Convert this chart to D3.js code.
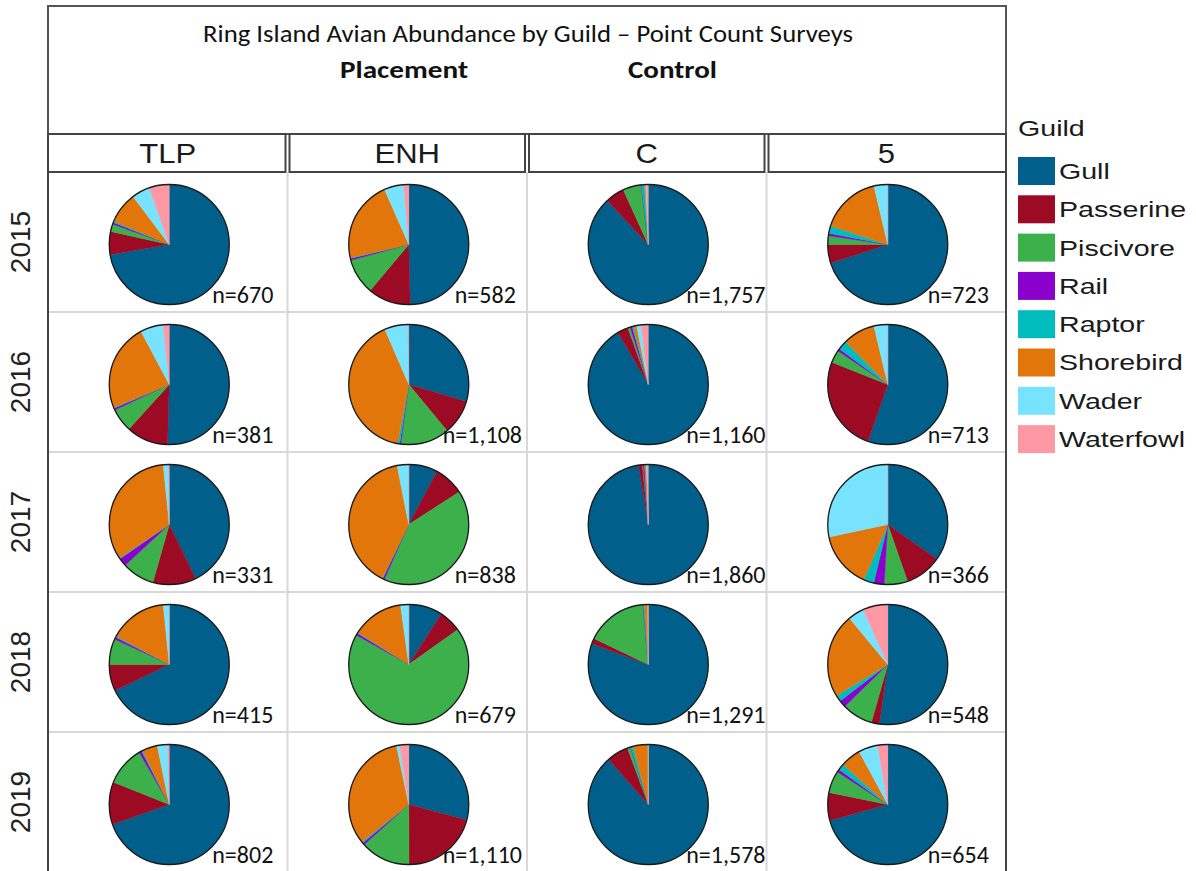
<!DOCTYPE html>
<html>
<head>
<meta charset="utf-8">
<script src="https://cdn.jsdelivr.net/npm/d3@7"></script>
<style>
  body { margin: 0; background: #fff; }
  svg { display: block; }
</style>
</head>
<body>
<svg id="chart" width="1196" height="871"></svg>
<script>
// Guild categories and their colours
const guilds = ["Gull", "Passerine", "Piscivore", "Rail", "Raptor", "Shorebird", "Wader", "Waterfowl"];
const guildColors = ["#00608b", "#9c0a23", "#3cb04a", "#8a00cc", "#00bcbc", "#e2760b", "#78e3ff", "#ff98a5"];

// Survey sites (columns) and years (rows)
const sites = ["TLP", "ENH", "C", "5"];
const years = ["2015", "2016", "2017", "2018", "2019"];

// Percent of birds in each guild, per site, in guild order
const share2015 = [
  [72.3, 6.2, 2.0, 0.5, 0.3, 8.4, 4.9, 5.4],
  [49.5, 11.5, 9.6, 0.5, 0.2, 21.9, 5.2, 1.4],
  [88.0, 5.2, 4.9, 0.1, 0.8, 0.3, 0.2, 0.5],
  [70.0, 5.0, 2.3, 0.7, 2.0, 16.3, 3.7, 0.0]
];
const share2016 = [
  [50.5, 11.3, 6.3, 0.5, 0.2, 23.5, 6.2, 1.6],
  [29.6, 9.4, 13.1, 0.3, 0.6, 40.5, 6.3, 0.2],
  [91.6, 2.9, 0.6, 0.6, 0.4, 0.8, 1.2, 1.9],
  [55.4, 25.7, 3.4, 0.7, 2.5, 8.7, 3.7, 0.0]
];
const share2017 = [
  [42.8, 11.6, 8.7, 2.2, 0.3, 32.8, 1.4, 0.2],
  [7.8, 8.1, 40.8, 0.5, 0.2, 39.6, 3.1, 0.0],
  [97.4, 1.0, 0.2, 0.4, 0.1, 0.4, 0.2, 0.3],
  [34.8, 9.9, 6.3, 2.8, 2.8, 15.1, 28.4, 0.0]
];
const share2018 = [
  [67.9, 7.1, 6.9, 0.6, 0.3, 15.6, 1.6, 0.0],
  [9.1, 6.1, 68.0, 0.6, 0.2, 13.9, 2.2, 0.0],
  [80.6, 1.5, 16.5, 0.1, 0.3, 0.9, 0.0, 0.1],
  [52.2, 2.2, 8.3, 1.9, 1.7, 22.7, 4.3, 6.7]
];
const share2019 = [
  [69.6, 11.4, 10.6, 0.7, 0.3, 4.1, 2.8, 0.4],
  [29.2, 20.8, 13.4, 0.6, 0.4, 32.4, 0.9, 2.4],
  [88.5, 5.9, 0.8, 0.1, 0.7, 4.0, 0.0, 0.0],
  [70.8, 7.5, 5.9, 0.8, 1.7, 5.5, 5.2, 2.7]
];

// Total birds counted, per site
const counts2015 = [670, 582, 1757, 723];
const counts2016 = [381, 1108, 1160, 713];
const counts2017 = [331, 838, 1860, 366];
const counts2018 = [415, 679, 1291, 548];
const counts2019 = [802, 1110, 1578, 654];

const shareByYear = [share2015, share2016, share2017, share2018, share2019];
const countsByYear = [counts2015, counts2016, counts2017, counts2018, counts2019];

const titleText = "Ring Island Avian Abundance by Guild \u2013 Point Count Surveys";
const groupLabels = ["Placement", "Control"];

// ---- layout ----
const svg = d3.select("#chart");
const left = 48, right = 1006, titleTop = 6, stripTop = 134, panelTop = 172, panelBottom = 872;
const sansCalibri = "Carlito, Calibri, Lato, 'Open Sans', sans-serif";
const sansArial = "'Liberation Sans', Arial, sans-serif";

const x = d3.scaleBand().domain(sites).range([left, right]);
const y = d3.scaleBand().domain(years).range([panelTop, panelBottom]);
const color = d3.scaleOrdinal(guilds, guildColors);
const radius = 60;
const fmt = d3.format(",");

// Title box
svg.append("rect")
  .attr("x", left).attr("y", titleTop)
  .attr("width", right - left).attr("height", stripTop - titleTop)
  .attr("fill", "#fff").attr("stroke", "#555").attr("stroke-width", 2);

svg.append("text")
  .attr("x", 203).attr("y", 42)
  .attr("textLength", 650).attr("lengthAdjust", "spacingAndGlyphs")
  .attr("font-family", sansCalibri).attr("font-size", 24)
  .attr("fill", "#111")
  .text(titleText);

const groupX = [340, 628];
const groupW = [128, 89];
svg.selectAll("text.group").data(groupLabels).join("text")
  .attr("class", "group")
  .attr("x", (d, i) => groupX[i]).attr("y", 78)
  .attr("textLength", (d, i) => groupW[i]).attr("lengthAdjust", "spacingAndGlyphs")
  .attr("font-family", sansCalibri).attr("font-size", 25).attr("font-weight", "bold")
  .attr("fill", "#111")
  .text(d => d);

// Panel grid
const grid = svg.append("g");
grid.selectAll("line.v").data(sites.slice(1)).join("line")
  .attr("x1", d => x(d)).attr("x2", d => x(d))
  .attr("y1", panelTop).attr("y2", panelBottom)
  .attr("stroke", "#d8d8d8").attr("stroke-width", 2);
grid.selectAll("line.h").data(years.slice(1)).join("line")
  .attr("x1", left).attr("x2", right)
  .attr("y1", d => y(d)).attr("y2", d => y(d))
  .attr("stroke", "#d8d8d8").attr("stroke-width", 2);
grid.append("line")
  .attr("x1", left).attr("x2", left).attr("y1", panelTop).attr("y2", panelBottom)
  .attr("stroke", "#444").attr("stroke-width", 2);
grid.append("line")
  .attr("x1", right).attr("x2", right).attr("y1", panelTop).attr("y2", panelBottom)
  .attr("stroke", "#444").attr("stroke-width", 2);

// Strip labels for sites
const strip = svg.append("g");
strip.selectAll("rect").data(sites).join("rect")
  .attr("x", d => x(d) + (d === sites[0] ? 0 : 2))
  .attr("y", stripTop)
  .attr("width", d => x.bandwidth() - (d === sites[0] ? 2 : 4) + (d === sites[sites.length - 1] ? 2 : 0))
  .attr("height", panelTop - stripTop)
  .attr("fill", "#fff").attr("stroke", "#444").attr("stroke-width", 2);
strip.selectAll("text").data(sites).join("text")
  .attr("transform", d => `translate(${x(d) + x.bandwidth() / 2},163) scale(1.15,1)`)
  .attr("text-anchor", "middle")
  .attr("font-family", sansArial).attr("font-size", 27)
  .attr("fill", "#1a1a1a")
  .text(d => d);

// Year labels
svg.selectAll("text.year").data(years).join("text")
  .attr("class", "year")
  .attr("transform", d => `translate(30,${y(d) + y.bandwidth() / 2}) rotate(-90)`)
  .attr("text-anchor", "middle")
  .attr("font-family", sansArial).attr("font-size", 28)
  .attr("fill", "#222")
  .text(d => d);

// Pies
const pie = d3.pie().sort(null).value(d => d.value);
const arc = d3.arc().innerRadius(0).outerRadius(radius);
const labelOffset = { "TLP": 43, "ENH": 46, "C": 38, "5": 40 };

years.forEach((yr, yi) => {
  sites.forEach((site, si) => {
    const cx = x(site) + x.bandwidth() / 2 + 1.5;
    const cy = y(yr) + y.bandwidth() / 2 + 2.5;
    const slices = guilds.map((g, gi) => ({ guild: g, value: shareByYear[yi][si][gi] }));
    const g = svg.append("g").attr("transform", `translate(${cx},${cy})`);
    g.selectAll("path").data(pie(slices)).join("path")
      .attr("d", arc)
      .attr("fill", d => color(d.data.guild))
      .attr("stroke", d => color(d.data.guild))
      .attr("stroke-width", 0.4);
    g.append("circle").attr("r", radius)
      .attr("fill", "none").attr("stroke", "#1a1a1a").attr("stroke-width", 1.3);

    const label = "n=" + fmt(countsByYear[yi][si]);
    const off = (site === "ENH" && countsByYear[yi][si] >= 1000) ? 34 : labelOffset[site];
    svg.append("text")
      .attr("x", cx + off).attr("y", cy + 58)
      .attr("font-family", sansCalibri).attr("font-size", 24)
      .attr("fill", "#111")
      .text(label);
  });
});

// Legend
const legend = svg.append("g").attr("transform", "translate(1018,0)");
legend.append("text")
  .attr("x", 0).attr("y", 136)
  .attr("font-family", sansArial).attr("font-size", 22)
  .attr("transform", "scale(1.3,1)")
  .attr("fill", "#1a1a1a")
  .text("Guild");
const keyStep = 38.3;
const items = legend.selectAll("g.item").data(guilds).join("g")
  .attr("class", "item")
  .attr("transform", (d, i) => `translate(0,${157 + i * keyStep})`);
items.append("rect")
  .attr("width", 37).attr("height", 28)
  .attr("fill", d => color(d));
items.append("text")
  .attr("x", 41 / 1.3).attr("y", 22)
  .attr("transform", "scale(1.3,1)")
  .attr("font-family", sansArial).attr("font-size", 22)
  .attr("fill", "#1a1a1a")
  .text(d => d);
</script>
</body>
</html>
